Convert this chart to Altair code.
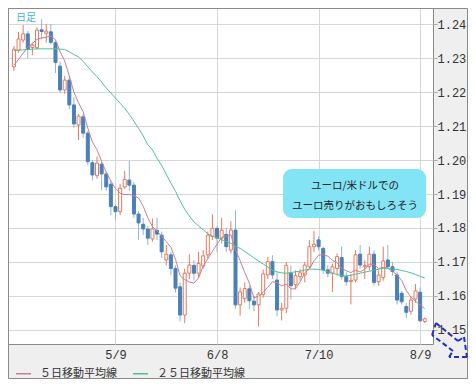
import altair as alt
import pandas as pd

# ---- data ----
idx = list(range(90))
opens = [1.2274, 1.2323, 1.2353, 1.2371, 1.2331, 1.2331, 1.2383, 1.2373, 1.2377, 1.2345,
         1.2276, 1.2206, 1.2235, 1.2162, 1.2103, 1.2127, 1.2079, 1.1992, 1.1954, 1.1988,
         1.1959, 1.1929, 1.1863, 1.1848, 1.1921, 1.1941, 1.1926, 1.1841, 1.1811, 1.1797,
         1.1768, 1.1793, 1.1779, 1.1706, 1.1721, 1.1681, 1.1627, 1.1544, 1.1667, 1.1690,
         1.1667, 1.1688, 1.1721, 1.1775, 1.1799, 1.1770, 1.1781, 1.1735, 1.1794, 1.1574,
         1.1593, 1.1621, 1.1585, 1.1574, 1.1604, 1.1662, 1.1701, 1.1647, 1.1559, 1.1564,
         1.1667, 1.1633, 1.1657, 1.1662, 1.1686, 1.1745, 1.1765, 1.1740, 1.1677, 1.1667,
         1.1681, 1.1713, 1.1657, 1.1642, 1.1647, 1.1723, 1.1686, 1.1686, 1.1723, 1.1642,
         1.1654, 1.1706, 1.1686, 1.1662, 1.1608, 1.1569, 1.1555, 1.1591, 1.1611, 1.1525]
highs = [1.2335, 1.2377, 1.2397, 1.2380, 1.2345, 1.2390, 1.2414, 1.2400, 1.2400, 1.2350,
         1.2290, 1.2247, 1.2245, 1.2185, 1.2135, 1.2135, 1.2085, 1.2000, 1.2010, 1.1995,
         1.1965, 1.1940, 1.1870, 1.1930, 1.1968, 1.1998, 1.1935, 1.1850, 1.1830, 1.1805,
         1.1828, 1.1830, 1.1790, 1.1750, 1.1730, 1.1690, 1.1640, 1.1680, 1.1723, 1.1705,
         1.1730, 1.1735, 1.1790, 1.1840, 1.1805, 1.1830, 1.1800, 1.1820, 1.1852, 1.1625,
         1.1640, 1.1630, 1.1600, 1.1612, 1.1678, 1.1715, 1.1720, 1.1670, 1.1580, 1.1700,
         1.1690, 1.1675, 1.1680, 1.1700, 1.1765, 1.1792, 1.1776, 1.1745, 1.1690, 1.1695,
         1.1725, 1.1745, 1.1670, 1.1665, 1.1735, 1.1750, 1.1705, 1.1745, 1.1735, 1.1675,
         1.1745, 1.1750, 1.1700, 1.1672, 1.1615, 1.1580, 1.1598, 1.1635, 1.1625, 1.1537]
lows = [1.2262, 1.2315, 1.2345, 1.2300, 1.2309, 1.2325, 1.2355, 1.2345, 1.2340, 1.2256,
        1.2198, 1.2195, 1.2150, 1.2095, 1.2059, 1.2065, 1.1985, 1.1940, 1.1945, 1.1911,
        1.1910, 1.1838, 1.1825, 1.1838, 1.1915, 1.1910, 1.1830, 1.1765, 1.1780, 1.1750,
        1.1760, 1.1765, 1.1712, 1.1690, 1.1662, 1.1610, 1.1525, 1.1520, 1.1650, 1.1645,
        1.1655, 1.1680, 1.1710, 1.1765, 1.1730, 1.1755, 1.1730, 1.1725, 1.1562, 1.1542,
        1.1580, 1.1560, 1.1555, 1.1510, 1.1595, 1.1650, 1.1650, 1.1540, 1.1528, 1.1550,
        1.1590, 1.1620, 1.1645, 1.1640, 1.1680, 1.1730, 1.1735, 1.1665, 1.1655, 1.1612,
        1.1660, 1.1648, 1.1630, 1.1575, 1.1640, 1.1680, 1.1650, 1.1675, 1.1630, 1.1630,
        1.1645, 1.1680, 1.1660, 1.1575, 1.1575, 1.1535, 1.1545, 1.1580, 1.1525, 1.1520]
closes = [1.2326, 1.2356, 1.2371, 1.2326, 1.2338, 1.2382, 1.2378, 1.2379, 1.2346, 1.2287,
          1.2206, 1.2235, 1.2162, 1.2106, 1.2129, 1.2079, 1.1995, 1.1956, 1.1991, 1.1959,
          1.1921, 1.1863, 1.1848, 1.1917, 1.1943, 1.1926, 1.1841, 1.1815, 1.1797, 1.1770,
          1.1797, 1.1782, 1.1730, 1.1723, 1.1681, 1.1623, 1.1544, 1.1667, 1.1691, 1.1667,
          1.1696, 1.1718, 1.1779, 1.1799, 1.1770, 1.1794, 1.1745, 1.1794, 1.1574, 1.1612,
          1.1622, 1.1586, 1.1574, 1.1606, 1.1665, 1.1701, 1.1662, 1.1559, 1.1564, 1.1690,
          1.1630, 1.1660, 1.1668, 1.1691, 1.1745, 1.1752, 1.1745, 1.1677, 1.1667, 1.1686,
          1.1716, 1.1657, 1.1642, 1.1646, 1.1721, 1.1691, 1.1690, 1.1723, 1.1640, 1.1662,
          1.1703, 1.1686, 1.1672, 1.1588, 1.1583, 1.1552, 1.1588, 1.1615, 1.1527, 1.1533]
ma5 = [1.2279, 1.2296, 1.2314, 1.2332, 1.2343, 1.2355, 1.2359, 1.2361, 1.2365, 1.2354,
       1.2319, 1.2291, 1.2247, 1.2199, 1.2168, 1.2142, 1.2094, 1.2053, 1.2030, 1.1996,
       1.1964, 1.1938, 1.1916, 1.1902, 1.1898, 1.1899, 1.1895, 1.1888, 1.1864, 1.1830,
       1.1804, 1.1792, 1.1775, 1.1760, 1.1743, 1.1708, 1.1660, 1.1648, 1.1641, 1.1638,
       1.1653, 1.1688, 1.1710, 1.1732, 1.1752, 1.1772, 1.1777, 1.1780, 1.1735, 1.1704,
       1.1669, 1.1638, 1.1594, 1.1600, 1.1611, 1.1626, 1.1642, 1.1639, 1.1630, 1.1635,
       1.1621, 1.1621, 1.1642, 1.1668, 1.1679, 1.1703, 1.1720, 1.1722, 1.1717, 1.1705,
       1.1698, 1.1681, 1.1674, 1.1669, 1.1676, 1.1671, 1.1678, 1.1694, 1.1693, 1.1681,
       1.1684, 1.1683, 1.1673, 1.1662, 1.1646, 1.1616, 1.1597, 1.1585, 1.1573, 1.1563]
ma25 = [1.2322, 1.2323, 1.2324, 1.2325, 1.2326, 1.2327, 1.2327, 1.2327, 1.2327, 1.2327,
        1.2326, 1.2325, 1.2318, 1.2310, 1.2303, 1.2290, 1.2274, 1.2259, 1.2245, 1.2229,
        1.2212, 1.2197, 1.2182, 1.2167, 1.2152, 1.2134, 1.2114, 1.2093, 1.2071, 1.2045,
        1.2030, 1.2005, 1.1984, 1.1958, 1.1932, 1.1908, 1.1880, 1.1855, 1.1835, 1.1818,
        1.1806, 1.1795, 1.1783, 1.1776, 1.1771, 1.1766, 1.1760, 1.1755, 1.1746, 1.1740,
        1.1731, 1.1722, 1.1712, 1.1703, 1.1694, 1.1685, 1.1676, 1.1671, 1.1668, 1.1667,
        1.1669, 1.1671, 1.1673, 1.1676, 1.1679, 1.1679, 1.1678, 1.1676, 1.1671, 1.1667,
        1.1663, 1.1660, 1.1659, 1.1661, 1.1664, 1.1667, 1.1670, 1.1673, 1.1676, 1.1679,
        1.1681, 1.1680, 1.1679, 1.1678, 1.1675, 1.1672, 1.1668, 1.1663, 1.1658, 1.1653]

tick_idx = [22, 44, 66, 88]
tick_labels = ["5/9", "6/8", "7/10", "8/9"]
y_ticks = [1.15, 1.16, 1.17, 1.18, 1.19, 1.20, 1.21, 1.22, 1.23, 1.24]
series_names = ["５日移動平均線", "２５日移動平均線"]
series_colors = ["#c97d95", "#52bf8f"]
title_text = "日足"
note_text = "ユーロ/米ドルでの\nユーロ売りがおもしろそう"

RED = "#e47a5e"
BLUE = "#4a80b8"
BLUE_WICK = "#8fb3d9"
MONO = "Liberation Mono"
JP = "Noto Sans CJK JP"

candles = pd.DataFrame({"idx": idx, "open": opens, "high": highs, "low": lows, "close": closes})
candles["dir"] = ["up" if c >= o else "down" for o, c in zip(opens, closes)]
ma = pd.DataFrame({
    "idx": idx + idx,
    "value": ma5 + ma25,
    "series": [series_names[0]] * len(idx) + [series_names[1]] * len(idx),
})

label_expr = " : ".join(
    f"datum.value == {v} ? '{t}'" for v, t in zip(tick_idx, tick_labels)
) + " : ''"

x_scale = alt.Scale(domain=[-0.2, 89.7], nice=False, zero=False)
y_scale = alt.Scale(domain=[1.14588, 1.24471], nice=False, zero=False)
x_axis = alt.Axis(values=tick_idx, labelExpr=label_expr, grid=True, ticks=False, domain=False,
                  labelPadding=5, title=None, labelFont=MONO, labelFontSize=12,
                  labelColor="#333333", gridColor="#d6d6d6", labelFlush=False)
y_axis = alt.Axis(orient="right", values=y_ticks, format=".2f", grid=True, tickSize=4,
                  tickColor="#aaaaaa", domain=False, labelPadding=0, labelFont=MONO,
                  labelFontSize=12, labelColor="#333333", title=None, labelFlush=False,
                  gridColor="#d6d6d6")

base = alt.Chart(candles)
X = alt.X("idx:Q", scale=x_scale, axis=x_axis)

wick_up = base.transform_filter("datum.dir == 'up'").mark_rule(color=RED, strokeWidth=1).encode(
    x=X, y=alt.Y("low:Q", scale=y_scale, axis=y_axis), y2="high:Q")
wick_dn = base.transform_filter("datum.dir == 'down'").mark_rule(color=BLUE_WICK, strokeWidth=1).encode(
    x=X, y=alt.Y("low:Q", scale=y_scale, axis=y_axis), y2="high:Q")
body_up = base.transform_filter("datum.dir == 'up'").mark_bar(
    size=3, fill="white", stroke=RED, strokeWidth=1).encode(
    x=X, y=alt.Y("open:Q", scale=y_scale, axis=y_axis), y2="close:Q")
body_dn = base.transform_filter("datum.dir == 'down'").mark_bar(
    size=3, fill=BLUE, stroke=BLUE, strokeWidth=1).encode(
    x=X, y=alt.Y("open:Q", scale=y_scale, axis=y_axis), y2="close:Q")

lines = alt.Chart(ma).mark_line(strokeWidth=1).encode(
    x=X,
    y=alt.Y("value:Q", scale=y_scale, axis=y_axis),
    color=alt.Color("series:N", scale=alt.Scale(domain=series_names, range=series_colors),
                    legend=alt.Legend(orient="none", legendX=7, legendY=357, direction="horizontal",
                                      symbolType="stroke", symbolSize=225, symbolStrokeWidth=1.5,
                                      labelFont=JP, labelFontSize=11, labelColor="#333333",
                                      columnPadding=13, labelOffset=8, title=None, padding=0)),
    detail="series:N",
)

one = pd.DataFrame({"k": [0]})
frame = alt.Chart(one).mark_rect(filled=False, stroke="#8a8a8a", strokeWidth=1).encode(
    x=alt.value(0.5), x2=alt.value(459.5), y=alt.value(0.5), y2=alt.value(370.5))
note_box = alt.Chart(one).mark_rect(cornerRadius=9, fill="#83e4f6").encode(
    x=alt.value(275), x2=alt.value(418), y=alt.value(161), y2=alt.value(210))
note = alt.Chart(one).mark_text(font=JP, fontSize=10.5, color="#222222", align="center",
                                baseline="middle", lineBreak="\n", lineHeight=20).encode(
    x=alt.value(347), y=alt.value(178), text=alt.value(note_text))
title = alt.Chart(one).mark_text(font=JP, fontSize=10, color="#3ab4e6", align="left",
                                 baseline="middle").encode(
    x=alt.value(8), y=alt.value(10), text=alt.value(title_text))

# dashed arrow decoration in the lower-right corner (pixel outline)
arrow_pts = [(428, 315), (450, 333), (456, 329), (459, 349), (441, 349), (445, 343), (424, 327), (428, 315)]
arrow_layers = []
for (xa, ya), (xb, yb) in zip(arrow_pts[:-1], arrow_pts[1:]):
    arrow_layers.append(
        alt.Chart(one).mark_rule(color="#1f30c8", strokeWidth=2, strokeDash=[5, 3]).encode(
            x=alt.value(xa), x2=alt.value(xb), y=alt.value(ya), y2=alt.value(yb)))

chart = alt.layer(frame, wick_up, wick_dn, body_up, body_dn, lines, note_box, note, title,
                  *arrow_layers).properties(
    width=425, height=336,
    padding={"left": 0, "top": 0, "right": 35, "bottom": 35},
    autosize=alt.AutoSizeParams(type="none"),
).configure(background="#efefef").configure_view(stroke="#8a8a8a", strokeWidth=1, fill="white")

chart.save("out.html", embed_options={"renderer": "svg", "actions": False})
